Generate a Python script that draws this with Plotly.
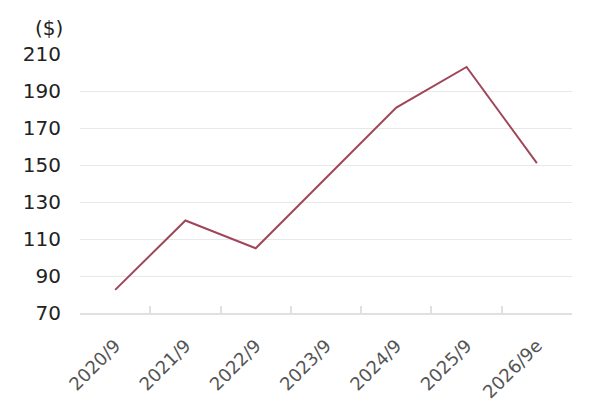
import plotly.graph_objects as go

categories = ["2020/9", "2021/9", "2022/9", "2023/9", "2024/9", "2025/9", "2026/9e"]
values = [82.5, 120, 105, 143, 181, 203, 151]
y_ticks = [70, 90, 110, 130, 150, 170, 190, 210]

fig = go.Figure()
fig.add_trace(go.Scatter(
    x=categories, y=values, mode="lines",
    line=dict(color="#9F4659", width=2),
    hoverinfo="skip", showlegend=False,
))

fig.update_layout(
    width=600, height=409,
    margin=dict(l=72, r=36, t=46, b=104),
    paper_bgcolor="white", plot_bgcolor="white",
    font=dict(family="DejaVu Sans", color="#222"),
    xaxis=dict(
        type="category", tickson="boundaries", ticks="inside", ticklen=7,
        tickcolor="#E0E0E0", tickwidth=1.5,
        showline=True, linecolor="#E0E0E0", linewidth=2,
        showgrid=False, tickangle=-45,
        tickfont=dict(size=18, color="#555"),
        ticklabelstandoff=13,
        range=[-0.5, 6.5],
    ),
    yaxis=dict(
        range=[70, 210], tickvals=y_ticks, showgrid=True,
        gridcolor="#E8E8E8", gridwidth=1, zeroline=False,
        tickfont=dict(size=20, color="#222"),
        ticklabelstandoff=18, showline=False,
    ),
    annotations=[dict(
        text="($)", xref="paper", yref="paper", x=-0.03, y=1.10,
        xanchor="right", yanchor="middle",
        showarrow=False, font=dict(size=20, color="#222"),
    )],
)
fig.write_html("out.html")
